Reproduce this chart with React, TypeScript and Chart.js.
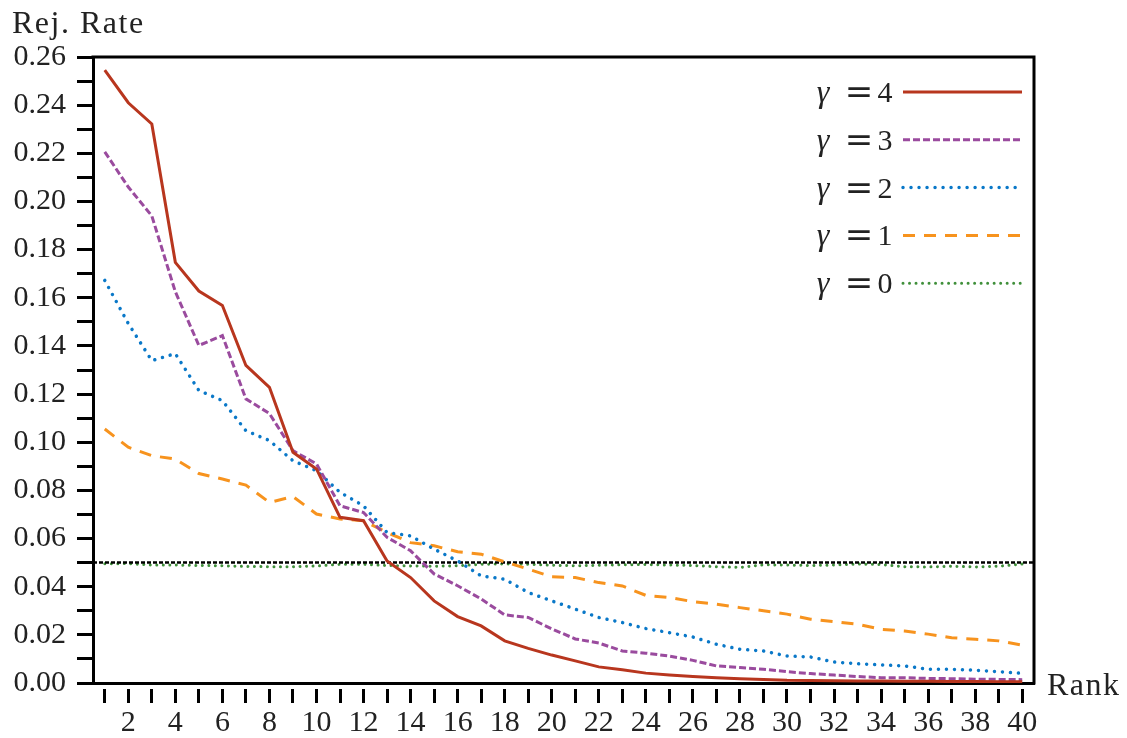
import React, { useEffect, useRef } from 'react';
import { Chart, registerables } from 'chart.js';
Chart.register(...registerables);

const ranks = [1, 2, 3, 4, 5, 6, 7, 8, 9, 10, 11, 12, 13, 14, 15, 16, 17, 18, 19, 20,
  21, 22, 23, 24, 25, 26, 27, 28, 29, 30, 31, 32, 33, 34, 35, 36, 37, 38, 39, 40];

const gamma4 = [0.2546, 0.241, 0.2322, 0.1747, 0.1628, 0.1568, 0.1319, 0.1228, 0.0958, 0.0889,
  0.0688, 0.0674, 0.0507, 0.0438, 0.0341, 0.0276, 0.0237, 0.0175, 0.0144, 0.0116,
  0.0092, 0.0067, 0.0055, 0.0041, 0.0033, 0.0027, 0.0022, 0.0018, 0.0015, 0.0011,
  0.001, 0.0009, 0.0008, 0.0008, 0.0007, 0.0007, 0.0006, 0.0006, 0.0005, 0.0005];

const gamma3 = [0.2206, 0.206, 0.194, 0.1625, 0.1402, 0.1443, 0.118, 0.1119, 0.0965, 0.091,
  0.0736, 0.0708, 0.0605, 0.0549, 0.0453, 0.0404, 0.0349, 0.0283, 0.0272, 0.0225,
  0.0183, 0.0166, 0.0133, 0.0124, 0.0112, 0.0094, 0.0071, 0.0064, 0.0057, 0.0047,
  0.0039, 0.0033, 0.0027, 0.0022, 0.0022, 0.0019, 0.0018, 0.0016, 0.0015, 0.0014];

const gamma2 = [0.1672, 0.1493, 0.1339, 0.1368, 0.1215, 0.1173, 0.1048, 0.1007, 0.0923, 0.0882,
  0.0792, 0.0736, 0.0625, 0.0611, 0.0556, 0.0507, 0.0445, 0.0431, 0.0376, 0.0341,
  0.0307, 0.0272, 0.0251, 0.0226, 0.0209, 0.0191, 0.0161, 0.014, 0.0133, 0.0112,
  0.0108, 0.0087, 0.008, 0.0075, 0.0071, 0.0057, 0.0057, 0.0053, 0.0047, 0.004];

const gamma1 = [0.1055, 0.0979, 0.0944, 0.093, 0.087, 0.0847, 0.0822, 0.075, 0.0774, 0.0702,
  0.0681, 0.0674, 0.0625, 0.0583, 0.057, 0.0545, 0.0535, 0.0503, 0.0473, 0.0441,
  0.0438, 0.0417, 0.0403, 0.0364, 0.0355, 0.0338, 0.0327, 0.0313, 0.03, 0.0286,
  0.0265, 0.0255, 0.0244, 0.0223, 0.0216, 0.0203, 0.0188, 0.0182, 0.0175, 0.0157];

const gamma0 = [0.0495, 0.0496, 0.049, 0.049, 0.0488, 0.0487, 0.0484, 0.0483, 0.0483, 0.0486,
  0.0493, 0.0493, 0.0488, 0.0486, 0.0485, 0.0487, 0.0493, 0.0495, 0.0493, 0.0489,
  0.0487, 0.0489, 0.0491, 0.0492, 0.049, 0.0488, 0.0483, 0.048, 0.0491, 0.049,
  0.0488, 0.049, 0.0494, 0.0492, 0.0483, 0.0482, 0.0485, 0.0482, 0.0485, 0.0494];

const nominalLevel = 0.05;
const xRange = [0.5, 40.5];
const yTickValues = [0, 0.01, 0.02, 0.03, 0.04, 0.05, 0.06, 0.07, 0.08, 0.09, 0.1, 0.11, 0.12,
  0.13, 0.14, 0.15, 0.16, 0.17, 0.18, 0.19, 0.2, 0.21, 0.22, 0.23, 0.24, 0.25, 0.26];
const legendLabels = ['4', '3', '2', '1', '0'];

const SERIF = "'Liberation Serif', 'Times New Roman', serif";

const toPoints = (vals: number[]) => vals.map((v, i) => ({ x: ranks[i], y: v }));

export default function App() {
  const ref = useRef<HTMLCanvasElement | null>(null);

  useEffect(() => {
    const canvas = ref.current;
    if (!canvas) return;

    const series = [
      { label: 'γ = 4', data: toPoints(gamma4), borderColor: '#B8361E', borderWidth: 3, borderDash: [] as number[], cap: 'butt' },
      { label: 'γ = 3', data: toPoints(gamma3), borderColor: '#9A4B9E', borderWidth: 3, borderDash: [7, 3], cap: 'butt' },
      { label: 'γ = 2', data: toPoints(gamma2), borderColor: '#0A78C8', borderWidth: 3.5, borderDash: [0.01, 8], cap: 'round' },
      { label: 'γ = 1', data: toPoints(gamma1), borderColor: '#F7931E', borderWidth: 3, borderDash: [12, 9], cap: 'butt' },
      { label: 'ref', data: [{ x: xRange[0], y: nominalLevel }, { x: xRange[1], y: nominalLevel }], borderColor: '#000', borderWidth: 2.5, borderDash: [4, 2], cap: 'butt' },
      { label: 'γ = 0', data: toPoints(gamma0), borderColor: '#3F8F3A', borderWidth: 3, borderDash: [0.01, 6.5], cap: 'round' },
    ];

    const framePlugin = {
      id: 'frame',
      afterDraw(chart: any) {
        const { ctx, chartArea } = chart;
        ctx.save();
        ctx.strokeStyle = '#000';
        ctx.lineWidth = 3;
        ctx.beginPath();
        ctx.moveTo(chartArea.left - 1.5, chartArea.top);
        ctx.lineTo(chartArea.right, chartArea.top);
        ctx.lineTo(chartArea.right, chartArea.bottom + 1.5);
        ctx.stroke();

        // axis titles
        ctx.fillStyle = '#222';
        ctx.font = `32px ${SERIF}`;
        ctx.textAlign = 'left';
        ctx.textBaseline = 'alphabetic';
        try { (ctx as any).letterSpacing = '1.5px'; } catch (e) { /* ignore */ }
        ctx.fillText('Rej. Rate', 12, 33);
        ctx.fillText('Rank', 1047, 695);
        try { (ctx as any).letterSpacing = '0px'; } catch (e) { /* ignore */ }

        // legend
        const order = [0, 1, 2, 3, 5];
        order.forEach((dsIndex, i) => {
          const ds = chart.data.datasets[dsIndex];
          const y = 92 + i * 47.8;
          ctx.fillStyle = '#222';
          ctx.textAlign = 'center';
          ctx.font = `italic 32px ${SERIF}`;
          ctx.fillText('γ', 823, y + 10);
          ctx.font = `34px 'DejaVu Serif', serif`;
          ctx.fillText('=', 859, y + 11);
          ctx.font = `30px ${SERIF}`;
          ctx.fillText(legendLabels[i], 885, y + 10);

          ctx.strokeStyle = ds.borderColor;
          ctx.lineWidth = ds.borderWidth;
          ctx.setLineDash(ds.borderDash || []);
          ctx.lineCap = ds.borderCapStyle || 'butt';
          ctx.beginPath();
          ctx.moveTo(903, y);
          ctx.lineTo(1022, y);
          ctx.stroke();
          ctx.setLineDash([]);
          ctx.lineCap = 'butt';
        });
        ctx.restore();
      },
    };

    const chart = new Chart(canvas, {
      type: 'line',
      data: {
        datasets: series.map((s) => ({
          label: s.label,
          data: s.data,
          borderColor: s.borderColor,
          backgroundColor: s.borderColor,
          borderWidth: s.borderWidth,
          borderDash: s.borderDash,
          borderCapStyle: s.cap as any,
          pointRadius: 0,
          tension: 0,
          fill: false,
        })),
      },
      options: {
        responsive: false,
        animation: false,
        devicePixelRatio: 1,
        parsing: true,
        layout: { padding: { left: 0, top: 57, right: 93, bottom: 0 } },
        plugins: { legend: { display: false }, tooltip: { enabled: false } },
        scales: {
          x: {
            type: 'linear',
            min: xRange[0],
            max: xRange[1],
            afterBuildTicks: (s: any) => { s.ticks = ranks.map((v) => ({ value: v })); },
            afterFit: (s: any) => { s.height = 55; },
            grid: {
              drawOnChartArea: false,
              drawTicks: true,
              tickLength: 20,
              tickWidth: 3,
              tickColor: '#000',
              tickBorderDash: [14, 100],
              tickBorderDashOffset: -4,
            },
            border: { display: true, color: '#000', width: 3 },
            ticks: {
              autoSkip: false,
              maxRotation: 0,
              minRotation: 0,
              padding: 2,
              color: '#222',
              font: { family: SERIF, size: 30 },
              callback: (v: any) => (Number(v) % 2 === 0 ? String(v) : ''),
            },
          },
          y: {
            type: 'linear',
            min: 0,
            max: 0.26,
            afterBuildTicks: (s: any) => { s.ticks = yTickValues.map((v) => ({ value: v })); },
            afterFit: (s: any) => { s.width = 93; },
            grid: {
              drawOnChartArea: false,
              drawTicks: true,
              tickLength: 16,
              tickWidth: 3,
              tickColor: '#000',
            },
            border: { display: true, color: '#000', width: 3 },
            ticks: {
              autoSkip: false,
              padding: 11,
              color: '#222',
              font: { family: SERIF, size: 30 },
              callback: (v: any, i: number) => (i % 2 === 0 ? Number(v).toFixed(2) : ''),
            },
          },
        },
      },
      plugins: [framePlugin],
    });

    return () => chart.destroy();
  }, []);

  return (
    <div style={{ position: 'fixed', left: 0, top: 0, width: 1127, height: 738, background: '#fff' }}>
      <canvas ref={ref} width={1127} height={738} style={{ display: 'block' }} />
    </div>
  );
}
